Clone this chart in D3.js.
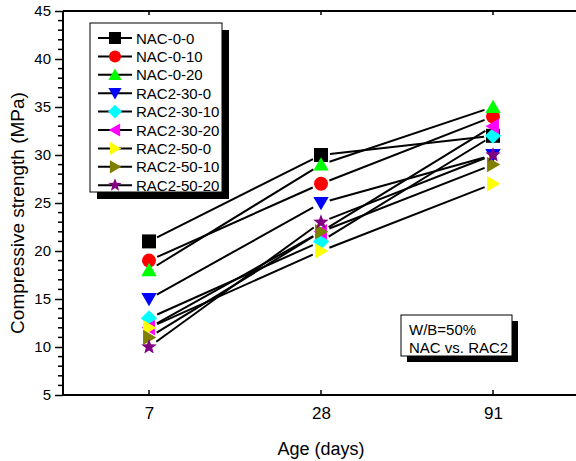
<!DOCTYPE html>
<html>
<head>
<meta charset="utf-8">
<script src="https://cdn.jsdelivr.net/npm/d3@7"></script>
<style>
  html, body { margin: 0; padding: 0; background: #fff; }
  svg { display: block; font-family: "Liberation Sans", Arial, sans-serif; }
</style>
</head>
<body>
<svg id="chart" width="576" height="461"></svg>
<script>
// Test ages (days) and compressive strength of each mix (MPa)
const ages = ["7", "28", "91"];
const seriesNames = ["NAC-0-0", "NAC-0-10", "NAC-0-20", "RAC2-30-0", "RAC2-30-10",
                     "RAC2-30-20", "RAC2-50-0", "RAC2-50-10", "RAC2-50-20"];
const nac_0_0    = [21, 30, 32];
const nac_0_10   = [19, 27, 34];
const nac_0_20   = [18, 29, 35];
const rac2_30_0  = [15, 25, 30];
const rac2_30_10 = [13, 21, 32];
const rac2_30_20 = [12, 22, 33];
const rac2_50_0  = [12, 20, 27];
const rac2_50_10 = [11, 22, 29];
const rac2_50_20 = [10, 23, 30];
const yTicks = [5, 10, 15, 20, 25, 30, 35, 40, 45];

const seriesValues = [nac_0_0, nac_0_10, nac_0_20, rac2_30_0, rac2_30_10,
                      rac2_30_20, rac2_50_0, rac2_50_10, rac2_50_20];
const colors = ["#000000", "#ff0000", "#00ff00", "#0000ff", "#00ffff",
                "#ff00ff", "#ffff00", "#808000", "#800080"];
const shapes = ["square", "circle", "triUp", "triDown", "diamond",
                "triLeft", "triRight", "triRight", "star"];

const svg = d3.select("#chart");
const plotLeft = 63, plotTop = 11, plotBottom = 395, plotRight = 579;
const FONT = "Liberation Sans, Arial, sans-serif";

const x = d3.scalePoint().domain(ages).range([plotLeft, plotRight]).padding(0.5);
const y = d3.scaleLinear().domain([5, 45]).range([plotBottom, plotTop]);

// Marker path generator centred on 0,0; s = nominal size
function markerPath(shape, s) {
  const h = s / 2;
  switch (shape) {
    case "square": return `M${-h},${-h}H${h}V${h}H${-h}Z`;
    case "circle": return d3.symbol(d3.symbolCircle, Math.PI * h * h)();
    case "triUp": return `M0,${-h * 1.05}L${h * 1.1},${h * 0.85}L${-h * 1.1},${h * 0.85}Z`;
    case "triDown": return `M0,${h * 1.05}L${h * 1.1},${-h * 0.85}L${-h * 1.1},${-h * 0.85}Z`;
    case "triLeft": return `M${-h * 1.05},0L${h * 0.85},${h * 1.1}L${h * 0.85},${-h * 1.1}Z`;
    case "triRight": return `M${h * 1.05},0L${-h * 0.85},${h * 1.1}L${-h * 0.85},${-h * 1.1}Z`;
    case "diamond": return `M0,${-h * 1.15}L${h * 1.15},0L0,${h * 1.15}L${-h * 1.15},0Z`;
    case "star": {
      const pts = [];
      const R = h * 1.15, r = R * 0.42;
      for (let i = 0; i < 10; i++) {
        const a = -Math.PI / 2 + i * Math.PI / 5;
        const rr = i % 2 === 0 ? R : r;
        pts.push([rr * Math.cos(a), rr * Math.sin(a)]);
      }
      return "M" + pts.map(p => p.join(",")).join("L") + "Z";
    }
  }
}

// Axes frame
const g = svg.append("g");
g.append("line").attr("x1", plotLeft).attr("x2", plotLeft).attr("y1", plotTop).attr("y2", plotBottom)
  .attr("stroke", "#000").attr("stroke-width", 2);
g.append("line").attr("x1", plotLeft).attr("x2", plotRight).attr("y1", plotBottom).attr("y2", plotBottom)
  .attr("stroke", "#000").attr("stroke-width", 2);
g.append("line").attr("x1", plotLeft).attr("x2", plotRight).attr("y1", plotTop).attr("y2", plotTop)
  .attr("stroke", "#000").attr("stroke-width", 2);

// Left axis: major ticks with labels, minor ticks each 1 MPa
const yAxis = d3.axisLeft(y).tickValues(yTicks).tickSize(8).tickPadding(4);
const yg = svg.append("g").attr("transform", `translate(${plotLeft},0)`).call(yAxis);
yg.select(".domain").remove();
yg.selectAll(".tick line").attr("stroke-width", 1.5);
yg.selectAll(".tick text").attr("font-size", 15).attr("font-family", FONT).attr("fill", "#000");
const minor = d3.range(5, 46).filter(v => v % 5 !== 0);
svg.append("g").selectAll("line").data(minor).join("line")
  .attr("x1", plotLeft - 5).attr("x2", plotLeft).attr("y1", d => y(d)).attr("y2", d => y(d))
  .attr("stroke", "#000").attr("stroke-width", 1.5);

// Bottom axis with inward ticks
const xAxis = d3.axisBottom(x).tickSize(0).tickPadding(12);
const xg = svg.append("g").attr("transform", `translate(0,${plotBottom})`).call(xAxis);
xg.select(".domain").remove();
xg.selectAll(".tick text").attr("font-size", 17).attr("font-family", FONT).attr("fill", "#000");
svg.append("g").selectAll("line").data(ages).join("line")
  .attr("x1", d => x(d)).attr("x2", d => x(d)).attr("y1", plotBottom).attr("y2", plotBottom - 5)
  .attr("stroke", "#000").attr("stroke-width", 1.5);
svg.append("g").selectAll("line").data(ages).join("line")
  .attr("x1", d => x(d)).attr("x2", d => x(d)).attr("y1", plotTop).attr("y2", plotTop + 4)
  .attr("stroke", "#000").attr("stroke-width", 1.5);

// Axis titles
svg.append("text").attr("x", x("28")).attr("y", 455).attr("text-anchor", "middle")
  .attr("font-size", 18).text("Age (days)");
svg.append("text").attr("transform", `translate(24,213) rotate(-90)`)
  .attr("text-anchor", "middle").attr("font-size", 19).text("Compressive strength (MPa)");

// Connecting lines, trimmed near each marker
const gap = 9;
const linesG = svg.append("g");
const marksG = svg.append("g");
seriesValues.forEach((vals, i) => {
  const pts = vals.map((v, j) => [x(ages[j]), y(v)]);
  for (let j = 0; j < pts.length - 1; j++) {
    const [x1, y1] = pts[j], [x2, y2] = pts[j + 1];
    const dx = x2 - x1, dy = y2 - y1, len = Math.hypot(dx, dy);
    const ux = dx / len, uy = dy / len;
    linesG.append("line")
      .attr("x1", x1 + ux * gap).attr("y1", y1 + uy * gap)
      .attr("x2", x2 - ux * gap).attr("y2", y2 - uy * gap)
      .attr("stroke", "#000").attr("stroke-width", 2);
  }
});
seriesValues.forEach((vals, i) => {
  marksG.append("g").selectAll("path").data(vals).join("path")
    .attr("transform", (d, j) => `translate(${x(ages[j])},${y(d)})`)
    .attr("d", markerPath(shapes[i], 14))
    .attr("fill", colors[i]);
});

// Legend with drop shadow
const lg = svg.append("g");
const lx = 90, ly = 23, lw = 132, lh = 169;
lg.append("rect").attr("x", lx + 7).attr("y", ly + 7).attr("width", lw).attr("height", lh).attr("fill", "#000");
lg.append("rect").attr("x", lx).attr("y", ly).attr("width", lw).attr("height", lh)
  .attr("fill", "#fff").attr("stroke", "#000").attr("stroke-width", 1);
seriesNames.forEach((name, i) => {
  const cy = 38 + i * 18.4;
  lg.append("line").attr("x1", 98).attr("x2", 132).attr("y1", cy).attr("y2", cy)
    .attr("stroke", "#000").attr("stroke-width", 2);
  lg.append("path").attr("transform", `translate(115,${cy})`)
    .attr("d", markerPath(shapes[i], 12)).attr("fill", colors[i]);
  lg.append("text").attr("x", 136).attr("y", cy + 5.5).attr("font-size", 15).text(name);
});

// Annotation box
const ag = svg.append("g");
ag.append("rect").attr("x", 407).attr("y", 321).attr("width", 111).attr("height", 41).attr("fill", "#000");
ag.append("rect").attr("x", 401).attr("y", 315).attr("width", 111).attr("height", 41)
  .attr("fill", "#fff").attr("stroke", "#000").attr("stroke-width", 1);
ag.append("text").attr("x", 409).attr("y", 335).attr("font-size", 15).text("W/B=50%");
ag.append("text").attr("x", 409).attr("y", 353).attr("font-size", 15).text("NAC vs. RAC2");
</script>
</body>
</html>
